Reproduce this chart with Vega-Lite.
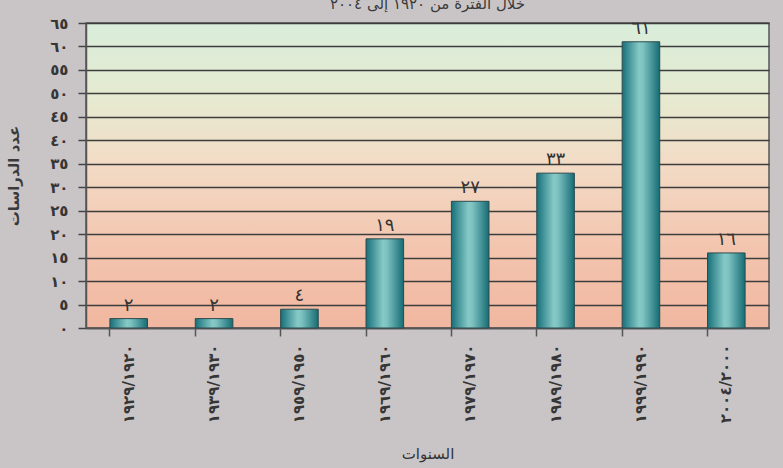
{
  "$schema": "https://vega.github.io/schema/vega-lite/v6.json",
  "width": 783,
  "height": 468,
  "autosize": {"type": "fit", "contains": "padding"},
  "padding": {"left": 6, "top": -3, "right": 14, "bottom": 6},
  "background": "#c9c5c7",
  "title": {
    "text": "خلال الفترة من ١٩٢٠ إلى ٢٠٠٤",
    "fontSize": 15,
    "font": "DejaVu Sans",
    "fontWeight": "normal",
    "color": "#3a3a3a",
    "offset": 4,
    "anchor": "middle"
  },
  "config": {
    "view": {
      "stroke": "#555555",
      "strokeWidth": 1.5,
      "fill": {
        "gradient": "linear",
        "x1": 0, "y1": 0, "x2": 0, "y2": 1,
        "stops": [
          {"offset": 0, "color": "#d9eedb"},
          {"offset": 0.25, "color": "#e6ead0"},
          {"offset": 0.45, "color": "#f2dcc6"},
          {"offset": 0.75, "color": "#f3c4ae"},
          {"offset": 1, "color": "#f1b7a0"}
        ]
      }
    },
    "axis": {"labelFont": "DejaVu Sans", "titleFont": "DejaVu Sans"}
  },
  "data": {
    "values": [
      {"order": 1, "period": "١٩٢٩/١٩٢٠", "count": 2, "label": "٢"},
      {"order": 2, "period": "١٩٣٩/١٩٣٠", "count": 2, "label": "٢"},
      {"order": 3, "period": "١٩٥٩/١٩٥٠", "count": 4, "label": "٤"},
      {"order": 4, "period": "١٩٦٩/١٩٦٠", "count": 19, "label": "١٩"},
      {"order": 5, "period": "١٩٧٩/١٩٧٠", "count": 27, "label": "٢٧"},
      {"order": 6, "period": "١٩٨٩/١٩٨٠", "count": 33, "label": "٣٣"},
      {"order": 7, "period": "١٩٩٩/١٩٩٠", "count": 61, "label": "٦١"},
      {"order": 8, "period": "٢٠٠٤/٢٠٠٠", "count": 16, "label": "١٦"}
    ]
  },
  "encoding": {
    "x": {
      "field": "period",
      "type": "nominal",
      "sort": {"field": "order"},
      "scale": {"paddingInner": 0.56, "paddingOuter": 0.28},
      "axis": {
        "title": "السنوات",
        "titleFontSize": 15,
        "titleFontWeight": "normal",
        "titleColor": "#333333",
        "titlePadding": 24,
        "labelAngle": -90,
        "labelFontSize": 15,
        "labelFontWeight": "bold",
        "labelColor": "#363636",
        "labelPadding": 8,
        "bandPosition": 0,
        "tickSize": 8,
        "tickColor": "#555555",
        "tickWidth": 1.5,
        "domainColor": "#555555",
        "domainWidth": 1.5,
        "grid": false
      }
    },
    "y": {
      "field": "count",
      "type": "quantitative",
      "scale": {"domain": [0, 65], "nice": false},
      "axis": {
        "title": "عدد الدراسات",
        "titleFontSize": 15,
        "titleFontWeight": "bold",
        "titleColor": "#3a3a3a",
        "titlePadding": 28,
        "values": [0, 5, 10, 15, 20, 25, 30, 35, 40, 45, 50, 55, 60, 65],
        "labelExpr": "({'0':'٠','5':'٥','10':'١٠','15':'١٥','20':'٢٠','25':'٢٥','30':'٣٠','35':'٣٥','40':'٤٠','45':'٤٥','50':'٥٠','55':'٥٥','60':'٦٠','65':'٦٥'})[datum.label]",
        "labelFontSize": 15,
        "labelFontWeight": "bold",
        "labelColor": "#363636",
        "labelPadding": 10,
        "tickSize": 8,
        "tickColor": "#444444",
        "tickWidth": 1.5,
        "domainColor": "#555555",
        "domainWidth": 1.5,
        "grid": true,
        "gridColor": "#3d3d3d",
        "gridWidth": 1.6,
        "gridOpacity": 1
      }
    }
  },
  "layer": [
    {
      "mark": {
        "type": "bar",
        "stroke": "#2c4a4e",
        "strokeWidth": 1,
        "color": {
          "gradient": "linear",
          "x1": 0, "y1": 0, "x2": 1, "y2": 0,
          "stops": [
            {"offset": 0, "color": "#17707a"},
            {"offset": 0.45, "color": "#86c9c6"},
            {"offset": 0.55, "color": "#7fc3c2"},
            {"offset": 1, "color": "#156c74"}
          ]
        }
      }
    },
    {
      "mark": {
        "type": "text",
        "baseline": "bottom",
        "dy": -4,
        "fontSize": 18,
        "font": "DejaVu Sans",
        "color": "#333333"
      },
      "encoding": {"text": {"field": "label"}}
    }
  ]
}
